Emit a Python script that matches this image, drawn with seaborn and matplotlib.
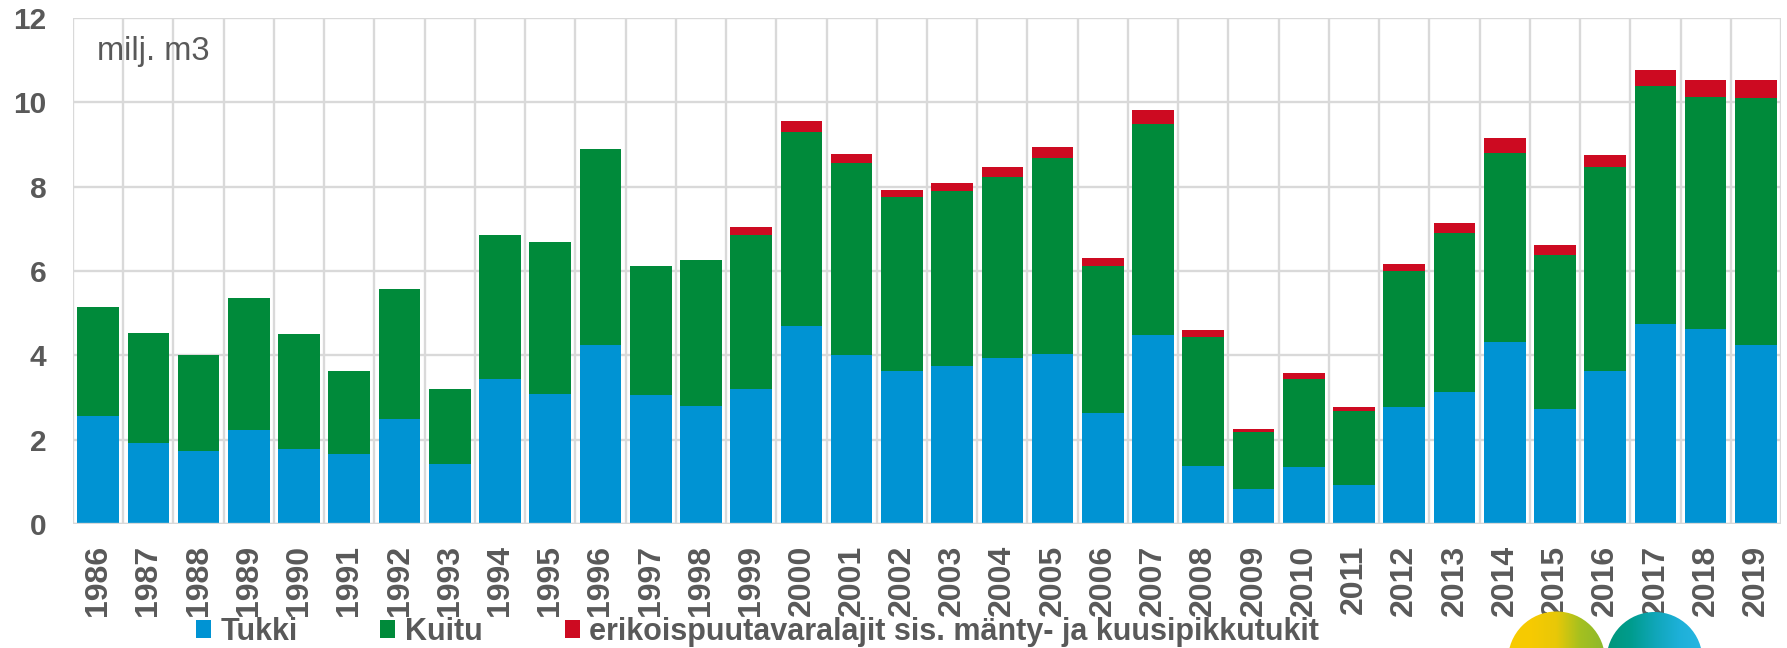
import numpy as np
import pandas as pd
import matplotlib
matplotlib.use("Agg")
import matplotlib.pyplot as plt
import seaborn as sns
from matplotlib.patches import Patch, Circle
from matplotlib.colors import LinearSegmentedColormap

years = [str(y) for y in range(1986, 2020)]
tukki = [2.57, 1.91, 1.74, 2.24, 1.79, 1.67, 2.48, 1.43, 3.44, 3.08, 4.24, 3.05, 2.81, 3.20,
         4.69, 4.00, 3.63, 3.74, 3.94, 4.03, 2.64, 4.48, 1.37, 0.83, 1.35, 0.93, 2.77, 3.14,
         4.32, 2.72, 3.63, 4.74, 4.62, 4.24]
kuitu = [2.58, 2.61, 2.26, 3.13, 2.71, 1.97, 3.09, 1.76, 3.42, 3.61, 4.65, 3.06, 3.44, 3.65,
         4.61, 4.56, 4.12, 4.15, 4.28, 4.66, 3.47, 5.01, 3.06, 1.35, 2.09, 1.75, 3.22, 3.76,
         4.49, 3.66, 4.83, 5.64, 5.50, 5.87]
erikois = [0, 0, 0, 0, 0, 0, 0, 0, 0, 0, 0, 0, 0, 0.19,
           0.25, 0.21, 0.16, 0.20, 0.24, 0.25, 0.19, 0.34, 0.16, 0.07, 0.13, 0.09, 0.17, 0.25,
           0.34, 0.24, 0.28, 0.39, 0.41, 0.43]
labels = ["Tukki", "Kuitu", "erikoispuutavaralajit sis. mänty- ja kuusipikkutukit"]
yticks = [0, 2, 4, 6, 8, 10, 12]

C_BLUE = "#0093D3"
C_GREEN = "#008A3A"
C_RED = "#CD0A21"
GRAY = "#595959"
GRID = "#D9D9D9"

df = pd.DataFrame({"year": years, "tukki": tukki, "kuitu": kuitu, "erikois": erikois})
df["top_green"] = df["tukki"] + df["kuitu"]
df["top_red"] = df["top_green"] + df["erikois"]

sns.set_style("white")
plt.rcParams["font.family"] = ["Liberation Sans", "DejaVu Sans"]

W, H = 1787, 648
fig = plt.figure(figsize=(W / 100, H / 100), dpi=100)
x0, x1, ytop, ybot = 73, 1781, 18, 524
ax = fig.add_axes([x0 / W, 1 - ybot / H, (x1 - x0) / W, (ybot - ytop) / H])

bw = 0.83
sns.barplot(data=df, x="year", y="top_red", color=C_RED, width=bw, saturation=1,
            linewidth=0, ax=ax, zorder=3)
sns.barplot(data=df, x="year", y="top_green", color=C_GREEN, width=bw, saturation=1,
            linewidth=0, ax=ax, zorder=3)
sns.barplot(data=df, x="year", y="tukki", color=C_BLUE, width=bw, saturation=1,
            linewidth=0, ax=ax, zorder=3)

n = len(years)
ax.set_xlim(-0.5, n - 0.5)
ax.set_ylim(0, 12)
ax.set_yticks(yticks)
ax.set_yticklabels([str(v) for v in yticks])
ax.grid(False)
for v in yticks:
    ax.axhline(v, color=GRID, lw=1.7, zorder=1)
for b in np.arange(-0.5, n, 1.0):
    ax.axvline(b, color=GRID, lw=1.7, zorder=1)
for s in ax.spines.values():
    s.set_visible(False)
ax.axhline(0, color=GRID, lw=2.4, zorder=4)

ax.set_xlabel("")
ax.set_ylabel("")
ax.tick_params(axis="x", which="both", length=0, pad=15, labelsize=23, labelcolor=GRAY)
ax.tick_params(axis="y", length=0, pad=19, labelsize=21.5, labelcolor=GRAY)
for t in ax.get_xticklabels():
    t.set_rotation(90)
    t.set_fontweight("bold")
for t in ax.get_yticklabels():
    t.set_fontweight("bold")

ax.text(97 / W, 1 - 60 / H, "milj. m3", transform=fig.transFigure, fontsize=23.5,
        color=GRAY, ha="left", va="baseline")

handles = [Patch(facecolor=c, edgecolor="none") for c in (C_BLUE, C_GREEN, C_RED)]
fig.legend(handles, labels, loc="center left", bbox_to_anchor=(196 / W, 1 - 632 / H),
           ncol=3, frameon=False, handlelength=0.5, handleheight=0.5,
           handletextpad=0.3, columnspacing=2.7, borderpad=0, borderaxespad=0,
           prop={"weight": "bold", "size": 22})
for t in fig.legends[0].get_texts():
    t.set_color(GRAY)

# logo circles (partially cut off at bottom right)
ov = fig.add_axes([0, 0, 1, 1], zorder=5)
ov.axis("off")
grad = np.linspace(0, 1, 256).reshape(1, -1)
logos = [
    (1556.5, 660, 48.5, ["#F8CC00", "#F6CA02", "#E8C808", "#A4C020", "#8DB82C"]),
    (1654.5, 660, 48.0, ["#00977A", "#009C8E", "#10A6B8", "#1DB0D8", "#28B6E2"]),
]
for cx, cy, r, cols in logos:
    cmap = LinearSegmentedColormap.from_list("g", cols)
    im = ov.imshow(grad, extent=[cx - r, cx + r, cy + r, cy - r], cmap=cmap,
                   aspect="auto", interpolation="bilinear")
    circ = Circle((cx, cy), r, transform=ov.transData)
    im.set_clip_path(circ)
ov.set_xlim(0, W)
ov.set_ylim(H, 0)

fig.savefig("out.png", dpi=100)
